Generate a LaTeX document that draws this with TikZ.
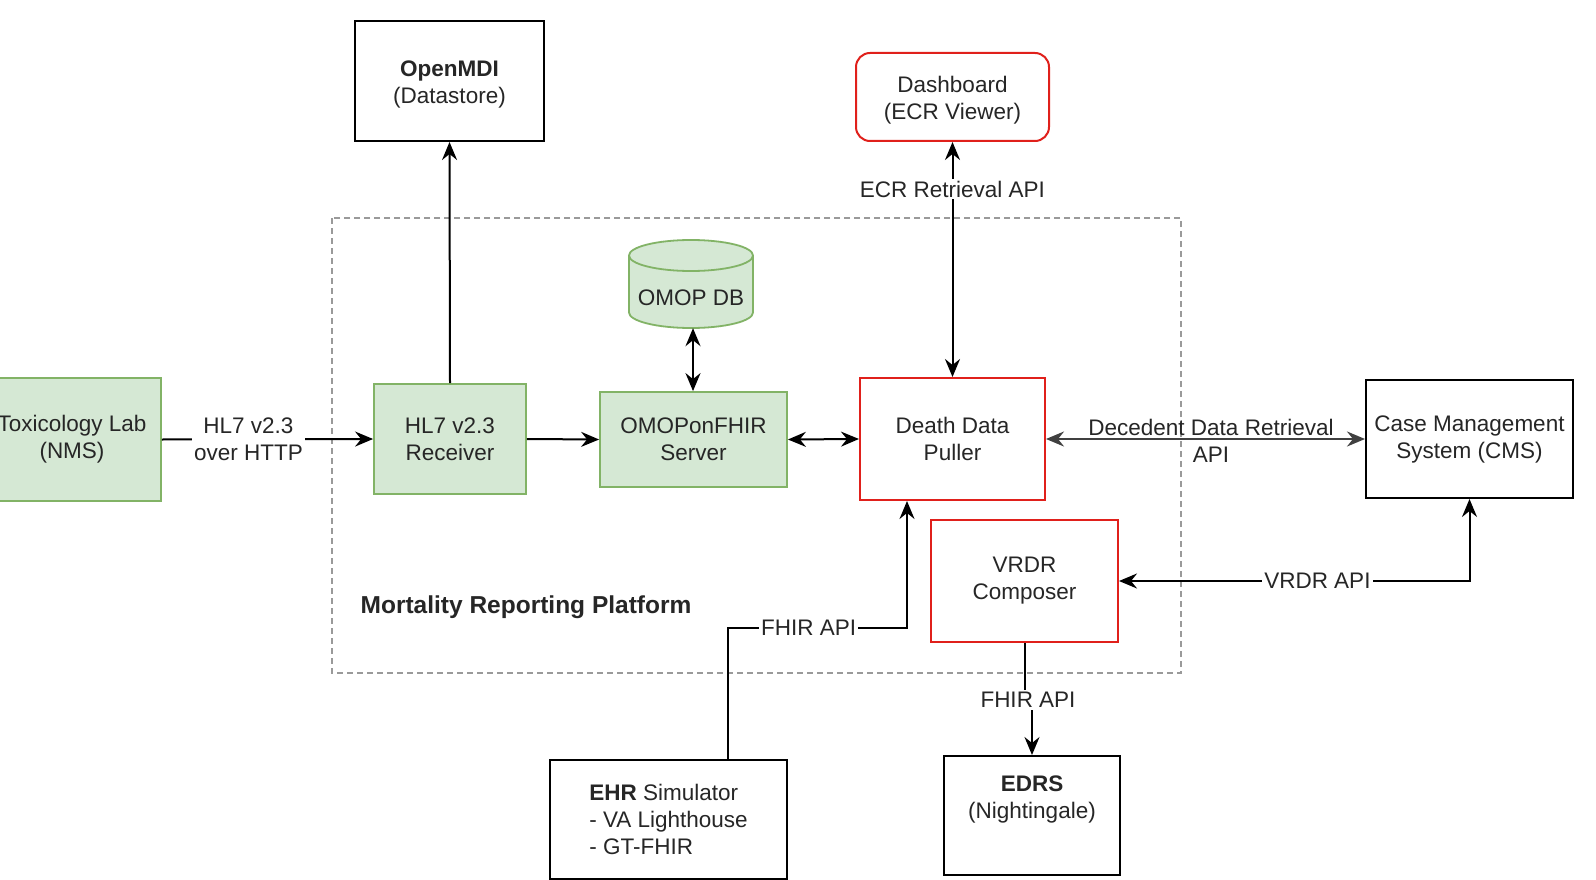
\documentclass[tikz,border=0pt]{standalone}
\usepackage{fontspec}
\setmainfont{Liberation Sans}
\usetikzlibrary{arrows.meta,positioning,calc}
\definecolor{gfill}{HTML}{D5E8D4}
\definecolor{gstroke}{HTML}{82B366}
\definecolor{dred}{HTML}{E0201B}
\definecolor{dgrey}{HTML}{9A9A9A}
\tikzset{
  base/.style={font=\fontsize{22.5}{27}\selectfont, align=center, inner sep=0pt, text=black!85},
  greenbox/.style={base, draw=gstroke, fill=gfill, line width=1.8pt},
  redbox/.style={base, draw=dred, line width=2pt},
  blackbox/.style={base, draw=black, line width=2pt},
  conn/.style={line width=2pt, draw=black},
  tipend/.style={-{Stealth[length=18pt,width=15pt,inset=6pt]}},
  tipboth/.style={{Stealth[length=18pt,width=15pt,inset=6pt]}-{Stealth[length=18pt,width=15pt,inset=6pt]}},
  lbl/.style={base, fill=white, inner sep=2pt},
  plainlbl/.style={base, inner sep=0pt}
}
\begin{document}
\begin{tikzpicture}[x=1pt,y=-1pt]
\useasboundingbox[fill=white] (0,0) rectangle (1596,880);

% platform region
\draw[dgrey, line width=1.3pt, dash pattern=on 6pt off 4pt] (332,218) rectangle (1181,673);
\node[base, font=\fontsize{24.5}{29}\selectfont\bfseries] (mrp) at (526,607) {Mortality Reporting Platform};

% nodes
\node[greenbox, minimum width=178pt, minimum height=123pt] (tox) at (72,439.5) {Toxicology Lab\\(NMS)};
\node[greenbox, minimum width=152pt, minimum height=110pt] (hl7) at (450,439) {HL7 v2.3\\Receiver};
\node[greenbox, minimum width=187pt, minimum height=95pt] (omop) at (693.5,439.5) {OMOPonFHIR\\Server};
\node[redbox, minimum width=185pt, minimum height=122pt] (ddp) at (952.5,439) {Death Data\\Puller};
\node[blackbox, minimum width=207pt, minimum height=118pt] (cms) at (1469.5,439) {Case Management\\System (CMS)};
\node[redbox, minimum width=187pt, minimum height=122pt] (vrdr) at (1024.5,581) {VRDR\\Composer};
\node[blackbox, minimum width=189pt, minimum height=120pt] (openmdi) at (449.5,81) {};
\node[plainlbl] (openmdit) at (449.5,84) {\textbf{OpenMDI}\\(Datastore)};
\node[redbox, rounded corners=14pt, minimum width=193pt, minimum height=88pt] (dash) at (952.5,97) {};
\node[plainlbl] (dasht) at (952.5,100) {Dashboard\\(ECR Viewer)};
\node[blackbox, align=left, minimum width=237pt, minimum height=119pt] (ehr) at (668.5,819.5) {\textbf{EHR} Simulator\\- VA Lighthouse\\- GT-FHIR};
\node[blackbox, minimum width=176pt, minimum height=119pt] (edrs) at (1032,815.5) {};
\node[plainlbl] (edrst) at (1032,799) {\textbf{EDRS}\\(Nightingale)};

% cylinder OMOP DB
\fill[gfill] (629,255.5) -- (629,312.5) .. controls (629,321.06) and (656.76,328) .. (691,328)
  .. controls (725.24,328) and (753,321.06) .. (753,312.5) -- (753,255.5) -- cycle;
\draw[gstroke, line width=1.8pt] (629,255.5) -- (629,312.5) .. controls (629,321.06) and (656.76,328) .. (691,328)
  .. controls (725.24,328) and (753,321.06) .. (753,312.5) -- (753,255.5);
\draw[gstroke, fill=gfill, line width=1.8pt] (691,255.5) ellipse [x radius=62pt, y radius=15.5pt];
\node[base, minimum width=124pt, minimum height=88pt] (db) at (691,284) {};
\node[plainlbl] (dbt) at (691,298) {OMOP DB};

% connectors
\draw[conn,tipend] (tox.east) -- node[lbl, pos=0.41] (l1) {HL7 v2.3\\over HTTP} (hl7.west);
\draw[conn,tipend] (hl7.east) -- (omop.west);
\draw[conn,tipend] (hl7.north) -- (openmdi.south);
\draw[conn,tipboth] ([xshift=2pt]db.south) -- ([xshift=-0.5pt]omop.north);
\draw[conn,tipboth] (omop.east) -- (ddp.west);
\draw[conn,tipboth] (dash.south) -- node[lbl, pos=0.2] (l2) {ECR Retrieval API} (ddp.north);
\draw[line width=2.4pt, draw=black!75, tipboth] (ddp.east) -- (cms.west);
\node[plainlbl] (l3) at (1211,441) {Decedent Data Retrieval\\API};
\draw[conn,tipboth] (cms.south) |- node[lbl, pos=0.717] (l4) {VRDR API} (vrdr.east);
\draw[conn,tipend] ([xshift=59.5pt]ehr.north) -- ++(0,-131) -- node[lbl, pos=0.45] (l5) {FHIR API} ++(179,0) -- ([xshift=-45.5pt]ddp.south);
\draw[conn,tipend] (vrdr.south) -- ++(0,57) -| (edrs.north);
\node[lbl] (l6) at (1028,700) {FHIR API};
\end{tikzpicture}
\end{document}
